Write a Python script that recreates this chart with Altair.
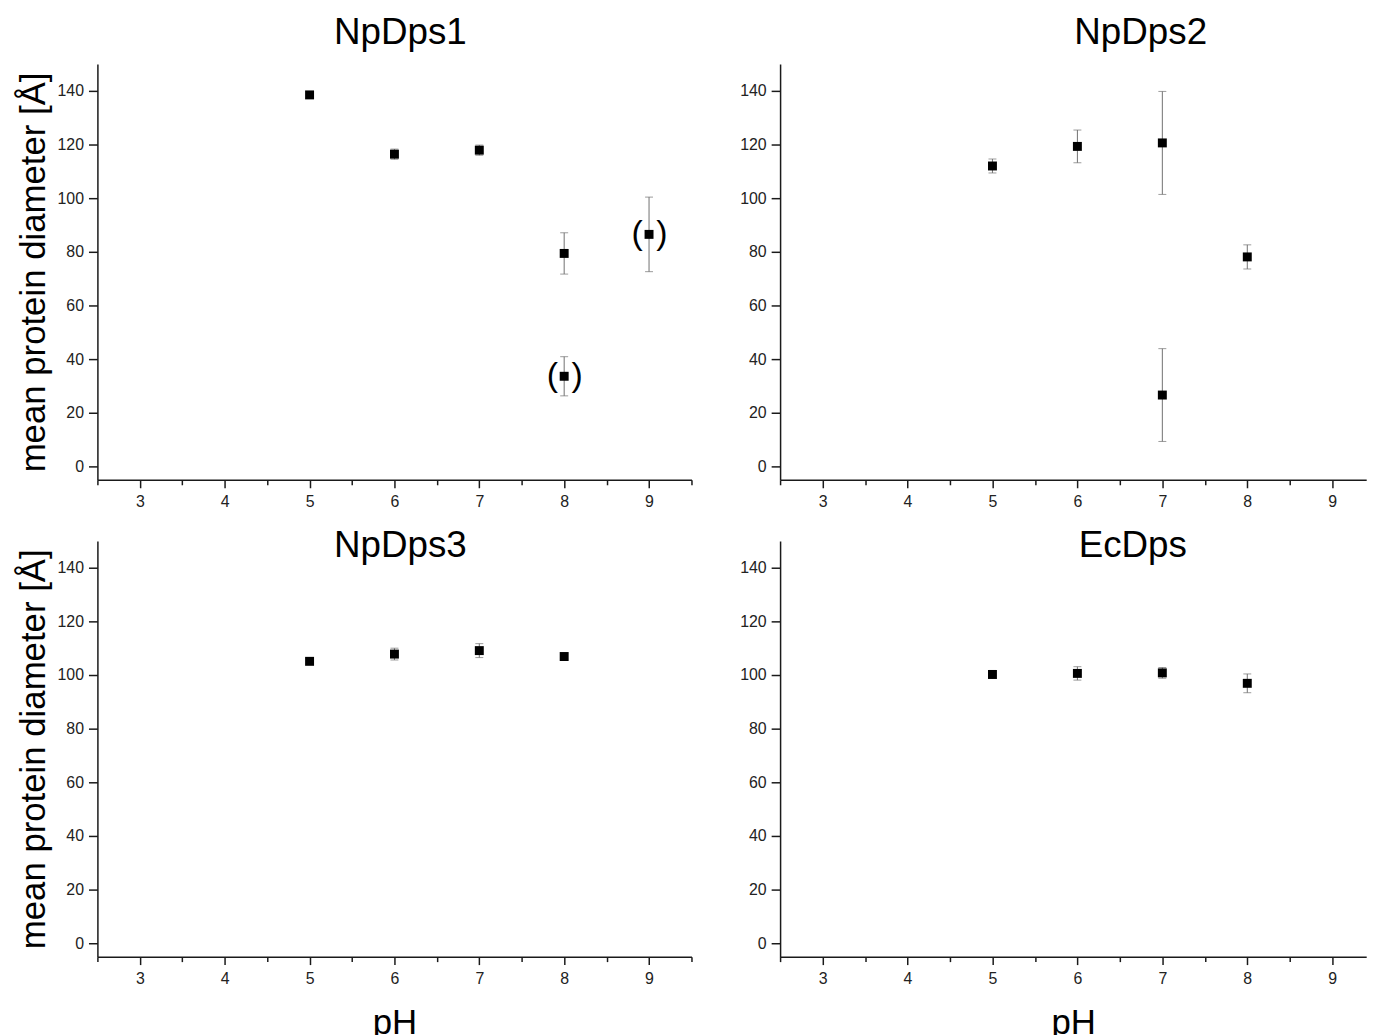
import altair as alt
import pandas as pd

FONT = "Liberation Sans"

# ---- data ----
np1_ph = [5, 6, 7, 8, 8, 9]
np1_mean = [138.5, 116.4, 117.9, 79.4, 33.6, 86.5]
np1_err = [1.2, 1.9, 1.9, 7.7, 7.3, 13.9]
np1_flag = [False, False, False, False, True, True]

np2_ph = [5, 6, 7, 7, 8]
np2_mean = [112.0, 119.3, 120.6, 26.6, 78.1]
np2_err = [2.6, 6.1, 19.2, 17.3, 4.5]
np2_flag = [False, False, False, False, False]

np3_ph = [5, 6, 7, 8]
np3_mean = [105.1, 107.8, 109.1, 106.9]
np3_err = [1.0, 2.2, 2.6, 1.0]
np3_flag = [False, False, False, False]

ec_ph = [5, 6, 7, 8]
ec_mean = [100.2, 100.6, 100.8, 96.9]
ec_err = [1.5, 2.5, 2.0, 3.5]
ec_flag = [False, False, False, False]

x_ticks = [2.5, 3, 3.5, 4, 4.5, 5, 5.5, 6, 6.5, 7, 7.5, 8, 8.5, 9, 9.5]
y_ticks = [0, 10, 20, 30, 40, 50, 60, 70, 80, 90, 100, 110, 120, 130, 140, 150]


def panel(name, ph, mean, err, flag, col, row, title_dx):
    df = pd.DataFrame({
        "pH": ph,
        "d": mean,
        "lo": [m - e for m, e in zip(mean, err)],
        "hi": [m + e for m, e in zip(mean, err)],
        "flag": flag,
    })
    xmax = 9.5 if col == 0 else 9.4
    width = 598 if col == 0 else 590

    x_axis_kw = dict(
        values=[v for v in x_ticks if v <= xmax],
        labelExpr="datum.value % 1 == 0 ? format(datum.value, 'd') : ''",
        tickSize={"condition": {"test": "datum.value % 1 == 0", "value": 8}, "value": 5},
        labelOverlap=False,
        labelFlush=False,
        grid=False,
        labelPadding=6,
        titlePadding=19,
    )
    if row == 1:
        x_axis_kw["title"] = "pH"
    else:
        x_axis_kw["title"] = None

    y_axis_kw = dict(
        values=y_ticks,
        labelExpr="datum.value % 20 == 0 && datum.value <= 140 ? datum.label : ''",
        tickSize={"condition": {"test": "datum.value % 20 == 0", "value": 9}, "value": 5},
        labelOverlap=False,
        labelFlush=False,
        grid=False,
        labelPadding=5,
        titlePadding=6,
    )
    if col == 0:
        y_axis_kw["title"] = "mean protein diameter [Å]"
    else:
        y_axis_kw["title"] = None

    xs = alt.X("pH:Q", scale=alt.Scale(domain=[2.5, xmax], nice=False, zero=False),
               axis=alt.Axis(**x_axis_kw))
    ys = alt.Y("lo:Q", scale=alt.Scale(domain=[-5, 150], nice=False, zero=False),
               axis=alt.Axis(**y_axis_kw))

    base = alt.Chart(df)
    rule = base.mark_rule(color="#707070", strokeWidth=1).encode(
        x=xs, y=ys, y2="hi:Q")
    cap_lo = base.mark_tick(color="#707070", orient="horizontal", size=8, thickness=1).encode(
        x="pH:Q", y="lo:Q")
    cap_hi = base.mark_tick(color="#707070", orient="horizontal", size=8, thickness=1).encode(
        x="pH:Q", y="hi:Q")
    pts = base.mark_square(size=81, color="black", opacity=1, filled=True).encode(
        x="pH:Q", y="d:Q")
    flagged = base.transform_filter("datum.flag")
    lpar = flagged.mark_text(text="(", fontSize=34, font=FONT, dx=-12, baseline="middle",
                             align="center", color="black").encode(x="pH:Q", y="d:Q")
    rpar = flagged.mark_text(text=")", fontSize=34, font=FONT, dx=13, baseline="middle",
                             align="center", color="black").encode(x="pH:Q", y="d:Q")

    dy = 17 if row == 0 else 53
    return alt.layer(rule, cap_lo, cap_hi, pts, lpar, rpar).properties(
        width=width,
        height=418.5,
        title=alt.TitleParams(name, fontSize=37, font=FONT, fontWeight="normal",
                              color="black", anchor="middle", baseline="alphabetic",
                              offset=0, dx=title_dx, dy=dy, frame="group"),
    )


p1 = panel("NpDps1", np1_ph, np1_mean, np1_err, np1_flag, 0, 0, 6)
p2 = panel("NpDps2", np2_ph, np2_mean, np2_err, np2_flag, 1, 0, 68)
p3 = panel("NpDps3", np3_ph, np3_mean, np3_err, np3_flag, 0, 1, 6)
p4 = panel("EcDps", ec_ph, ec_mean, ec_err, ec_flag, 1, 1, 60)

chart = alt.concat(p1, p2, p3, p4, columns=2, spacing={"row": 61, "column": 89.2},
                   bounds="flush").properties(
    padding={"left": 8, "top": 3, "right": 0, "bottom": 0},
    background="white",
).configure_view(stroke=None).configure_axis(
    domainColor="#1a1a1a", domainWidth=1.5, tickColor="#1a1a1a", tickWidth=1.5,
    labelFont=FONT, labelFontSize=16, labelColor="#222222",
    titleFont=FONT, titleFontSize=35, titleFontWeight="normal", titleColor="black",
)

chart.save("out.html", embed_options={"renderer": "svg", "actions": False})
